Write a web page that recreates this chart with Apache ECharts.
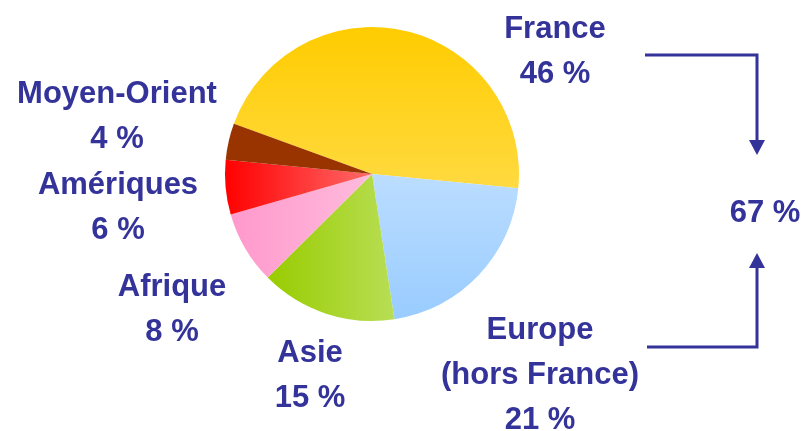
<!DOCTYPE html>
<html>
<head>
<meta charset="utf-8">
<script src="https://cdn.jsdelivr.net/npm/echarts@6/dist/echarts.min.js"></script>
<style>
html,body{margin:0;padding:0;background:#fff;}
#chart{width:805px;height:431px;}
</style>
</head>
<body>
<div id="chart"></div>
<script>
// données
var regions=["France","Europe\n(hors France)","Asie","Afrique","Amériques","Moyen-Orient"];
var parts=[46,21,15,8,6,4];

// couleurs des secteurs (dégradés)
var colors=[
    {type:'linear',x:0,y:0,x2:0,y2:1,colorStops:[{offset:0,color:'#ffcc00'},{offset:1,color:'#ffda40'}]},
    {type:'linear',x:0,y:0,x2:0,y2:1,colorStops:[{offset:0,color:'#bbddff'},{offset:1,color:'#99ccff'}]},
    {type:'linear',x:0,y:0,x2:1,y2:0,colorStops:[{offset:0,color:'#99cc00'},{offset:1,color:'#b8de55'}]},
    {type:'linear',x:0,y:0,x2:1,y2:0,colorStops:[{offset:0,color:'#ff99cc'},{offset:1,color:'#ffbbdd'}]},
    {type:'linear',x:0,y:0,x2:1,y2:0,colorStops:[{offset:0,color:'#ff0000'},{offset:1,color:'#ff6a6a'}]},
    '#993300'
];
// position des étiquettes
var labelPos=[[555,52],[540,375],[310,376],[172,310],[118,208],[117,117]];

var txtColor='#333399';
var fontFam='"Liberation Sans", Arial, sans-serif';

var myChart=echarts.init(document.getElementById('chart'));

var data=[];
for(var i=0;i<regions.length;i++){
    data.push({name:regions[i],value:parts[i],itemStyle:{color:colors[i]}});
};
var total67=parts[0]+parts[1];

var option={
    backgroundColor:'#fff',
    animation:false,
    series:[
        {
            type:'pie',
            center:[372,174],
            radius:147,
            startAngle:160,
            clockwise:true,
            data:data,
            itemStyle:{borderWidth:0},
            emphasis:{disabled:true},
            label:{
                show:true,
                formatter:function(p){return p.name+'\n'+p.value+' %';},
                color:txtColor,
                fontSize:31,
                fontWeight:'bold',
                fontFamily:fontFam,
                lineHeight:45,
                align:'center',
                overflow:'none',
                width:300
            },
            labelLine:{show:false},
            labelLayout:function(params){
                var p=labelPos[params.dataIndex];
                return {x:p[0],y:p[1],align:'center',verticalAlign:'middle'};
            }
        }
    ],
    graphic:[
        {type:'polyline',shape:{points:[[645,55],[757,55],[757,142]]},style:{stroke:txtColor,lineWidth:3,fill:null}},
        {type:'polygon',shape:{points:[[749,140],[765,140],[757,155]]},style:{fill:txtColor}},
        {type:'polyline',shape:{points:[[647,347],[757,347],[757,266]]},style:{stroke:txtColor,lineWidth:3,fill:null}},
        {type:'polygon',shape:{points:[[749,268],[765,268],[757,253]]},style:{fill:txtColor}},
        {type:'text',x:765,y:213,style:{text:total67+' %',fill:txtColor,font:'bold 31px '+fontFam,align:'center',verticalAlign:'middle'}}
    ]
};
myChart.setOption(option);
</script>
</body>
</html>
